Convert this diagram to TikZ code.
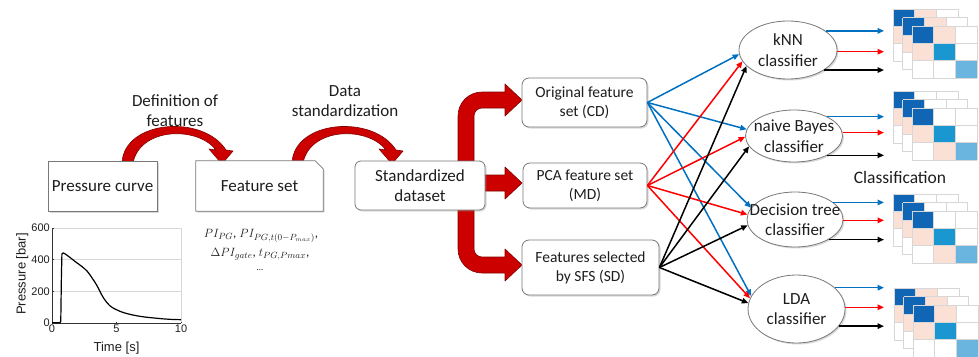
\documentclass[tikz,border=0pt]{standalone}
\usepackage{fontspec}
\setmainfont{Carlito}
\newfontfamily\plotfont{Liberation Sans}
\usetikzlibrary{shapes.geometric, arrows.meta, shadows, calc}
\pgfdeclarelayer{bg}
\pgfsetlayers{bg,main}

\definecolor{linegray}{RGB}{120,120,120}
\definecolor{arrred}{RGB}{205,0,0}
\definecolor{arrdark}{RGB}{130,0,0}
\definecolor{cblue}{RGB}{0,112,192}
\definecolor{cred}{RGB}{255,0,0}
\definecolor{mdark}{RGB}{16,102,181}
\definecolor{mmid}{RGB}{26,150,208}
\definecolor{mlight}{RGB}{106,180,224}
\definecolor{mpink}{RGB}{251,224,214}
\definecolor{gridgray}{RGB}{215,215,215}
\definecolor{txt}{RGB}{30,30,30}

\newcommand{\drawcm}[4]{%
  \begin{scope}[shift={(#1,#2)}]
    \fill[white] (0,0) rectangle (65,52);
    \fill[mdark] (0,0) rectangle (21.67,17.33);
    \fill[#3] (21.67,0) rectangle (43.33,17.33);
    \fill[mpink] (0,17.33) rectangle (21.67,34.67);
    \fill[mmid] (21.67,17.33) rectangle (43.33,34.67);
    \fill[#4] (21.67,34.67) rectangle (43.33,52);
    \fill[mlight] (43.33,34.67) rectangle (65,52);
    \foreach \k in {0,21.67,43.33,65} \draw[gridgray, line width=0.6pt] (\k,0) -- (\k,52);
    \foreach \k in {0,17.33,34.67,52} \draw[gridgray, line width=0.6pt] (0,\k) -- (65,\k);
  \end{scope}}

\newcommand{\cmstack}[4]{%
  \drawcm{#1-19}{#2-17}{#3}{#4}
  \drawcm{#1-9.5}{#2-8.5}{#3}{#4}
  \drawcm{#1}{#2}{#3}{#4}}

\begin{document}
\begin{tikzpicture}[x=1pt, y=-1pt,
  every node/.style={text=txt},
  shad/.style={drop shadow={shadow xshift=1.5pt, shadow yshift=-1.5pt, opacity=0.3}},
  box/.style={draw=linegray, fill=white, line width=0.8pt, inner sep=0pt, align=center,
    font=\fontsize{17}{20.5}\selectfont, shad},
  rbox/.style={box, rounded corners=6pt},
  fsbox/.style={box, rounded corners=7pt, font=\fontsize{15.5}{19}\selectfont},
  cls/.style={ellipse, draw=linegray, fill=white, line width=0.8pt, inner sep=0pt, shad},
  clstext/.style={font=\fontsize{17}{20.5}\selectfont, align=center, text=txt},
  conn/.style={line width=1.5pt, -{Triangle[length=6.5pt,width=5.5pt]}},
  redarrow/.style={fill=arrred, draw=arrdark, line width=0.6pt, line join=round},
  lbl/.style={font=\fontsize{17}{20.5}\selectfont, align=center}
]
\useasboundingbox (0,0) rectangle (979,356);

% ---------- left boxes ----------
\node[box, minimum width=109pt, minimum height=50pt] (pc) at (102.5,186) {Pressure curve};
\node[inner sep=0pt, minimum width=127pt, minimum height=50pt, font=\fontsize{17}{20.5}\selectfont] (fs) at (259.5,186) {};
\filldraw[draw=linegray, fill=white, line width=0.8pt, shad]
  (fs.south west) -- (fs.north west) -- ($(fs.north east)+(-8,0)$) -- ($(fs.north east)+(0,8)$) -- (fs.south east) -- cycle;
\node[font=\fontsize{17}{20.5}\selectfont] (fst) at (fs.center) {Feature set};
\node[rbox, minimum width=130pt, minimum height=49pt] (std) at (420,185.5) {Standardized\\dataset};

\node[lbl] (deflbl) at (175,110.5) {Definition of\\features};
\node[lbl] (stdlbl) at (345,101) {Data\\standardization};

% ---------- feature set boxes ----------
\node[fsbox, minimum width=125pt, minimum height=49pt] (cd) at (584.5,102.5) {Original feature\\set (CD)};
\node[fsbox, minimum width=124pt, minimum height=45pt] (md) at (585,185.5) {PCA feature set\\(MD)};
\node[fsbox, minimum width=137pt, minimum height=55pt] (sd) at (590.5,267.5) {Features selected\\by SFS (SD)};

% ---------- classifiers ----------
\node[cls, minimum width=98pt, minimum height=58pt] (knn) at (788,50) {};
\node[clstext] (knnt) at (knn.center) {kNN\\classifier};
\node[cls, minimum width=97pt, minimum height=52pt] (nb) at (794,136) {};
\node[clstext] (nbt) at (nb.center) {naive Bayes\\classifier};
\node[cls, minimum width=96pt, minimum height=55pt] (dt) at (795,219.5) {};
\node[clstext] (dtt) at (dt.center) {Decision tree\\classifier};
\node[cls, minimum width=97pt, minimum height=68pt] (lda) at (796.5,309) {};
\node[clstext] (ldat) at (lda.center) {LDA\\classifier};

\node[lbl, font=\fontsize{17.5}{21}\selectfont] (clslbl) at (900,177) {Classification};

% ---------- inbound connectors ----------
\draw[conn, cblue] (cd.east) -- (knn.185);
\draw[conn, cblue] (cd.east) -- (nb.172);
\draw[conn, cblue] (cd.east) -- (dt.165);
\draw[conn, cblue] (cd.east) -- (lda.164);
\draw[conn, cred] (md.east) -- (knn.194);
\draw[conn, cred] (md.east) -- (nb.181);
\draw[conn, cred] (md.east) -- (dt.174);
\draw[conn, cred] (md.east) -- (lda.167);
\draw[conn, black] (sd.east) -- (knn.201);
\draw[conn, black] (sd.east) -- (nb.193);
\draw[conn, black] (sd.east) -- (dt.187);
\draw[conn, black] (sd.east) -- (lda.173);

% ---------- outbound connectors ----------
\coordinate (ox) at (884,0);
\foreach \n/\a/\b/\c in {knn/27/358/331, nb/30/4/330, dt/24/359/329, lda/29/2/338} {
  \draw[conn, cblue] (\n.\a) -- (\n.\a -| ox);
  \draw[conn, cred] (\n.\b) -- (\n.\b -| ox);
  \draw[conn, black] (\n.\c) -- (\n.\c -| ox);
}

% ---------- confusion matrices ----------
\cmstack{912}{26}{mpink}{white}
\cmstack{912}{108}{white}{mpink}
\cmstack{912}{211}{white}{mpink}
\cmstack{913}{305}{mpink}{white}

% ---------- feature formulas ----------
\node[font=\fontsize{13}{15}\selectfont] (f1) at (261,236) {$PI_{PG}$, $PI_{PG,t(0-P_{max})}$,};
\node[font=\fontsize{13}{15}\selectfont] (f2) at (260,254) {$\Delta PI_{gate}$, $t_{PG,Pmax}$,};
\node[font=\fontsize{9}{11}\selectfont] (f3) at (260,270) {\dots};

% ---------- plot ----------
\begin{scope}[shift={(52,323)}, x=12.9pt, y=0.15833pt]
  \draw[gridgray, line width=0.6pt] (0,200) -- (10,200) (0,400) -- (10,400) (0,600) -- (10,600) -- (10,0);
  \draw[black!80, line width=0.7pt] (0,600) -- (0,0) -- (10,0);
  \foreach \t in {0,5,10} {
    \draw[black!80, line width=0.6pt] (\t,0) -- (\t,9);
    \node[font=\plotfont\fontsize{11}{13}\selectfont, anchor=north, inner sep=1.5pt] (xt\t) at (\t,0) {\t};
  }
  \foreach \p in {0,200,400,600} {
    \draw[black!80, line width=0.6pt] (0,\p) -- (0.12,\p);
    \node[font=\plotfont\fontsize{11}{13}\selectfont, anchor=east, inner sep=2pt] (yt\p) at (0,\p) {\p};
  }
  \draw[black, line width=1.2pt, line join=round]
    (0,2) -- (0.62,2) -- (0.68,10) -- (0.73,300) -- (0.77,440)
    plot[smooth, tension=0.55] coordinates {(0.77,440) (0.9,442) (1.3,420) (1.78,389) (2.3,358) (2.74,326)
      (3.1,285) (3.46,240) (3.98,160) (4.5,108) (5.0,84) (5.53,66) (6.3,50) (7.08,39) (8.37,28) (9.2,23) (10,21)};
  \node[font=\plotfont\fontsize{13}{15}\selectfont] (xlab) at (5,-160) {Time [s]};
  \node[font=\plotfont\fontsize{13}{15}\selectfont, rotate=90] (ylab) at (-2.3,310) {Pressure [bar]};
\end{scope}

% ---------- red arrows (background) ----------
\begin{pgfonlayer}{bg}
  \filldraw[redarrow] (122,163) .. controls (124,120) and (203,114) .. (226,150)
    -- (233,151) -- (222,164) -- (209,149) -- (216,150)
    .. controls (198,126) and (140,127) .. (133,163) -- cycle;
  \begin{scope}[shift={(170,0)}]
  \filldraw[redarrow] (122,163) .. controls (124,120) and (203,114) .. (226,150)
    -- (233,151) -- (222,164) -- (209,149) -- (216,150)
    .. controls (198,126) and (140,127) .. (133,163) -- cycle;
  \end{scope}
  % elbow arrows
  \filldraw[redarrow] (458,166) -- (458,116) .. controls (458,102.7) and (468.7,92) .. (482,92)
    -- (505,92) -- (505,84) -- (522,100) -- (505,116) -- (505,108) -- (482,108)
    .. controls (477.6,108) and (474,111.6) .. (474,116) -- (474,166) -- cycle;
  \filldraw[redarrow] (480,175) -- (505,175) -- (505,167) -- (522,183) -- (505,199) -- (505,191) -- (480,191) -- cycle;
  \filldraw[redarrow] (458,205) -- (458,249) .. controls (458,262.3) and (468.7,273) .. (482,273)
    -- (505,273) -- (505,281) -- (522,265) -- (505,249) -- (505,257) -- (482,257)
    .. controls (477.6,257) and (474,253.4) .. (474,249) -- (474,205) -- cycle;
\end{pgfonlayer}
\end{tikzpicture}
\end{document}
